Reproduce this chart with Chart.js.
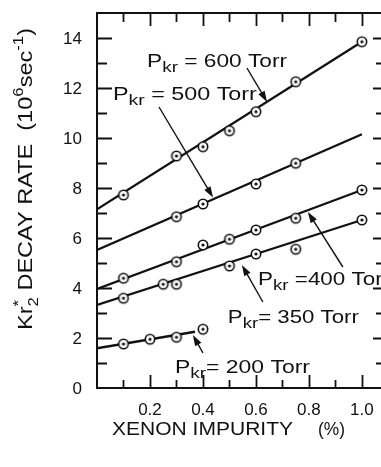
<!DOCTYPE html>
<html>
<head>
<meta charset="utf-8">
<script src="https://cdn.jsdelivr.net/npm/chart.js@4.4.1/dist/chart.umd.min.js"></script>
<style>
  html, body { margin: 0; padding: 0; background: #fff; overflow: hidden; }
  #wrap { width: 381px; height: 467px; position: relative; }
</style>
</head>
<body>
<div id="wrap"><canvas id="chart"></canvas></div>
<script>
// Kr2* decay rate vs xenon impurity, one series per krypton pressure.

const pressures = ['600', '500', '400', '350', '200'];

const x600 = [0.1, 0.3, 0.4, 0.5, 0.6, 0.75, 1.0];
const y600 = [7.72, 9.28, 9.65, 10.29, 11.05, 12.25, 13.85];
const x500 = [0.3, 0.4, 0.6, 0.75];
const y500 = [6.85, 7.36, 8.16, 8.99];
const x400 = [0.1, 0.3, 0.4, 0.5, 0.6, 0.75, 1.0];
const y400 = [4.39, 5.05, 5.72, 5.95, 6.32, 6.79, 7.92];
const x350 = [0.1, 0.25, 0.3, 0.5, 0.6, 0.75, 1.0];
const y350 = [3.59, 4.15, 4.15, 4.88, 5.36, 5.55, 6.72];
const x200 = [0.1, 0.2, 0.3, 0.4];
const y200 = [1.76, 1.95, 2.03, 2.35];

// straight-line fits: [start, end] per pressure
const fitX = [[0, 1.0], [0, 1.0], [0, 1.0], [0, 1.0], [0, 0.37]];
const fitY = [[7.15, 13.85], [5.52, 10.15], [3.96, 7.92], [3.32, 6.72], [1.59, 2.25]];

const xTicks = [0.2, 0.4, 0.6, 0.8, 1.0];
const xTickLabels = ['0.2', '0.4', '0.6', '0.8', '1.0'];
const yTicks = [0, 2, 4, 6, 8, 10, 12, 14];
const yTickLabels = ['0', '2', '4', '6', '8', '10', '12', '14'];

const INK = '#111';
const FONT = '"Liberation Sans", Arial, sans-serif';

// label placement in data units (left/baseline of text, arrow tail -> tip)
const notes = [
  { p: '600', eq: ' = ', at: [0.189, 12.84], w: 140, tail: [0.566, 12.8], tip: [0.642, 11.44] },
  { p: '500', eq: ' = ', at: [0.060, 11.52], w: 144, tail: [0.234, 11.24], tip: [0.438, 7.62] },
  { p: '400', eq: ' =', at: [0.608, 4.12], w: 132, tail: [0.928, 4.84], tip: [0.796, 7.04] },
  { p: '350', eq: '= ', at: [0.494, 2.60], w: 131, tail: [0.626, 3.44], tip: [0.547, 4.92] },
  { p: '200', eq: '= ', at: [0.294, 0.60], w: 135, tail: [0.400, 1.40], tip: [0.362, 2.12] }
];

function ringDot() {
  const c = document.createElement('canvas');
  c.width = c.height = 14;
  const g = c.getContext('2d');
  g.beginPath(); g.arc(7, 7, 4.7, 0, Math.PI * 2);
  g.fillStyle = '#fff'; g.fill();
  g.lineWidth = 1.6; g.strokeStyle = INK; g.stroke();
  g.beginPath(); g.arc(7, 7, 1.6, 0, Math.PI * 2);
  g.fillStyle = INK; g.fill();
  return c;
}

// draws a run of text parts, squeezed/stretched to width w
function drawRich(ctx, parts, x, y, size, w, subScale) {
  const ss = subScale || 0.72;
  const fontOf = p => (p.sub || p.sup ? Math.round(size * ss) : size) + 'px ' + FONT;
  let total = 0, prevW = 0;
  const widths = parts.map(p => {
    ctx.font = fontOf(p);
    const m = ctx.measureText(p.t).width;
    if (p.over) { const extra = Math.max(0, m - prevW); total += extra; return extra; }
    total += m; prevW = m; return m;
  });
  const sx = w ? w / total : 1;
  ctx.save();
  ctx.translate(x, y);
  ctx.scale(sx, 1);
  ctx.fillStyle = INK;
  ctx.textBaseline = 'alphabetic';
  ctx.textAlign = 'left';
  let cx = 0, lastStart = 0;
  parts.forEach((p, i) => {
    ctx.font = fontOf(p);
    const dy = p.sub ? size * 0.3 : p.sup ? -size * 0.42 : 0;
    const startX = p.over ? lastStart : cx;
    ctx.fillText(p.t, startX, dy);
    if (!p.over) lastStart = cx;
    cx += widths[i];
  });
  ctx.restore();
  return total * sx;
}

function arrow(ctx, x1, y1, x2, y2) {
  const a = Math.atan2(y2 - y1, x2 - x1);
  const len = 11, half = 3.6;
  ctx.save();
  ctx.strokeStyle = INK; ctx.fillStyle = INK; ctx.lineWidth = 1.4;
  ctx.beginPath(); ctx.moveTo(x1, y1);
  ctx.lineTo(x2 - Math.cos(a) * len * 0.8, y2 - Math.sin(a) * len * 0.8); ctx.stroke();
  ctx.beginPath();
  ctx.moveTo(x2, y2);
  ctx.lineTo(x2 - Math.cos(a) * len - Math.sin(a) * half, y2 - Math.sin(a) * len + Math.cos(a) * half);
  ctx.lineTo(x2 - Math.cos(a) * len + Math.sin(a) * half, y2 - Math.sin(a) * len - Math.cos(a) * half);
  ctx.closePath(); ctx.fill();
  ctx.restore();
}

const paperFrame = {
  id: 'paperFrame',
  beforeDraw(chart) {
    const ctx = chart.ctx;
    ctx.save(); ctx.fillStyle = '#fff'; ctx.fillRect(0, 0, chart.width, chart.height); ctx.restore();
  },
  afterDraw(chart) {
    const ctx = chart.ctx, a = chart.chartArea;
    const xs = chart.scales.x, ys = chart.scales.y;
    ctx.save();
    ctx.strokeStyle = INK;
    ctx.lineCap = 'butt';
    // frame (right edge falls just outside the picture)
    ctx.lineWidth = 2;
    ctx.beginPath();
    ctx.moveTo(a.right + 2, a.top); ctx.lineTo(a.left, a.top);
    ctx.lineTo(a.left, a.bottom); ctx.lineTo(a.right + 2, a.bottom);
    ctx.stroke();
    // inward ticks
    ctx.lineWidth = 1.8;
    ctx.beginPath();
    for (let v = 1; v <= 14; v++) {
      const py = Math.round(ys.getPixelForValue(v)) + 0.5;
      const major = v % 2 === 0;
      ctx.moveTo(a.left, py); ctx.lineTo(a.left + (major ? 15 : 10), py);
      ctx.moveTo(a.right, py); ctx.lineTo(a.right - (major ? 8 : 5), py);
    }
    for (let k = 1; k <= 10; k++) {
      const px = Math.round(xs.getPixelForValue(k / 10)) + 0.5;
      const major = k % 2 === 0;
      ctx.moveTo(px, a.bottom); ctx.lineTo(px, a.bottom - (major ? 13 : 8));
      ctx.moveTo(px, a.top); ctx.lineTo(px, a.top + (major ? 13 : 9));
    }
    ctx.stroke();

    // tick labels
    ctx.fillStyle = INK;
    ctx.font = '17px ' + FONT;
    ctx.textAlign = 'right'; ctx.textBaseline = 'middle';
    yTicks.forEach((v, i) => ctx.fillText(yTickLabels[i], a.left - 15, ys.getPixelForValue(v) + 1));
    ctx.textAlign = 'center'; ctx.textBaseline = 'alphabetic';
    xTicks.forEach((v, i) => ctx.fillText(xTickLabels[i], xs.getPixelForValue(v), a.bottom + 27));
    ctx.restore();

    // pressure labels with arrows
    notes.forEach(n => {
      const lx = xs.getPixelForValue(n.at[0]), ly = ys.getPixelForValue(n.at[1]);
      drawRich(ctx, [{ t: 'P' }, { t: 'kr', sub: true }, { t: n.eq + n.p + ' Torr' }], lx, ly, 18, n.w, 0.85);
      arrow(ctx, xs.getPixelForValue(n.tail[0]), ys.getPixelForValue(n.tail[1]),
        xs.getPixelForValue(n.tip[0]), ys.getPixelForValue(n.tip[1]));
    });

    // x title
    drawRich(ctx, [{ t: 'XENON IMPURITY' }], 112, 435, 18, 181);
    drawRich(ctx, [{ t: '(%)' }], 318, 435, 18, 27);

    // y title, rotated
    ctx.save();
    ctx.translate(32, 179);
    ctx.rotate(-Math.PI / 2);
    const parts = [
      { t: 'Kr' }, { t: '2', sub: true }, { t: '*', sup: true, over: true },
      { t: ' DECAY RATE  (10' }, { t: '6', sup: true }, { t: 'sec' }, { t: '-1', sup: true }, { t: ')' }
    ];
    drawRich(ctx, parts, -151, 0, 21, 302);
    ctx.restore();
  }
};

const dot = ringDot();
const seriesX = [x600, x500, x400, x350, x200];
const seriesY = [y600, y500, y400, y350, y200];
const datasets = [];
pressures.forEach((p, i) => {
  datasets.push({
    label: p + ' Torr',
    data: seriesX[i].map((v, j) => ({ x: v, y: seriesY[i][j] })),
    showLine: false, pointStyle: dot, pointRadius: 5, order: 0
  });
  datasets.push({
    label: p + ' Torr fit',
    data: fitX[i].map((v, j) => ({ x: v, y: fitY[i][j] })),
    showLine: true, borderColor: INK, borderWidth: 2.3, pointRadius: 0, order: 1
  });
});

new Chart(document.getElementById('chart'), {
  type: 'scatter',
  data: { datasets },
  options: {
    responsive: true, maintainAspectRatio: false, animation: false,
    devicePixelRatio: 1,
    layout: { autoPadding: false, padding: { top: 13, left: 0, right: 0, bottom: 0 } },
    plugins: { legend: { display: false }, tooltip: { enabled: false } },
    scales: {
      x: {
        type: 'linear', position: 'bottom', min: 0, max: 1.072,
        grid: { display: false, drawTicks: false }, border: { display: false },
        ticks: { display: false },
        afterFit: s => { s.height = 79; }
      },
      y: {
        type: 'linear', min: 0, max: 15,
        grid: { display: false, drawTicks: false }, border: { display: false },
        ticks: { display: false },
        afterFit: s => { s.width = 97; }
      }
    }
  },
  plugins: [paperFrame]
});
</script>
</body>
</html>
